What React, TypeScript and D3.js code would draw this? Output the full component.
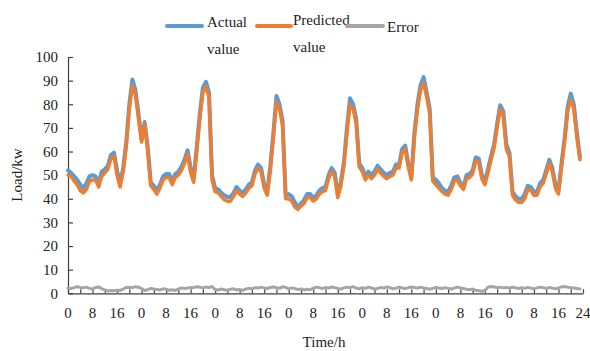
import { useEffect, useRef } from 'react';
import * as d3 from 'd3';

// hourly load over 7 days (168 points)
const actual = [
    52, 51, 49.5, 48, 46, 44.5, 46.5, 49.5, 50, 49.5, 46.5, 51.5, 52.5, 54, 58.5, 59.5, 52, 46.5, 53, 64, 80, 90.5, 86, 76,
    65, 72.5, 62, 47, 45.5, 43.5, 46, 49.5, 50.5, 50.5, 47.5, 50.5, 51.5, 53.5, 56.5, 60.5, 53, 48.8, 62, 76, 87, 89.5, 85, 50,
    44.5, 44, 42.5, 41.5, 40.8, 40.8, 42.5, 45, 43.5, 42.4, 44, 46, 47, 52, 54.5, 53, 46, 43, 54, 68, 83.5, 80, 73, 41.5,
    42, 41, 38.5, 36.5, 38, 39.5, 42, 42, 40.3, 41.5, 43.5, 44.5, 45, 50, 53, 51, 42, 47, 55.5, 70, 82.5, 80, 74, 55,
    53, 49.5, 51.5, 50, 51.5, 54, 52.5, 51, 50, 51, 51.5, 54.5, 54.5, 61, 62.5, 55, 49.3, 68, 80, 88, 91.5, 85, 78, 49,
    48, 46.5, 44.5, 43.5, 43, 45.5, 49, 49.5, 46.7, 45, 50, 50.5, 52, 57.5, 57, 50, 47.5, 52.5, 58, 63, 72, 79.6, 77, 63,
    59.5, 43, 41, 40, 40, 42, 45.5, 45, 43, 43, 46.5, 48, 52, 56.5, 53, 46, 43.7, 55, 65.7, 79, 84.5, 80, 68, 57.7,
];

const predicted = [
    50, 49.5, 47.5, 46, 43.5, 42.5, 44, 47.5, 48, 48, 45, 49.5, 51, 52.5, 57, 58, 50, 45, 51.5, 62, 78, 88, 84, 74,
    64, 71.5, 60, 45.5, 44, 42, 44.5, 48, 49, 49, 46, 49, 50, 52, 55, 59, 51, 47, 60, 74, 85, 87.5, 83, 48,
    43, 42.5, 41, 39.5, 39, 39, 41, 43.5, 42, 41, 42.5, 44.5, 45.5, 50.5, 53, 51.5, 44.5, 41.5, 52, 66, 81, 78, 71, 40,
    40, 39, 36.5, 35.5, 37, 38, 40.5, 40.5, 39, 40, 42, 43, 43.5, 48.5, 51.5, 49.5, 40.5, 45.5, 54, 68, 80, 78, 72, 53.5,
    51.5, 48, 50, 48.5, 50, 52.5, 51, 49.5, 48.5, 49.5, 50, 53, 53, 59.5, 61, 53.5, 48, 66, 78, 86, 89, 83, 76, 47.5,
    46, 44.5, 43, 42, 41.5, 44, 47.5, 48, 45.5, 44, 48.5, 49, 50.5, 56, 55.5, 48.5, 46, 51, 56.5, 61.5, 70.5, 78, 75, 61,
    58, 41.5, 39.5, 38.5, 38.5, 40, 44, 43.5, 41.5, 41.5, 45, 46.5, 50.5, 55, 51.5, 44.5, 42, 53.5, 64, 77, 82, 78, 66, 56.5,
];

const errorVals = [
    2.2, 2.0, 2.4, 2.8, 2.5, 2.3, 2.6, 2.1, 1.8, 2.5, 2.7, 2.0, 1.4, 1.0, 1.2, 1.1, 1.3, 1.2, 1.8, 2.5, 2.6, 2.4, 2.8, 2.6,
    2.0, 1.2, 1.5, 2.1, 1.8, 1.6, 1.4, 1.9, 1.7, 1.3, 1.5, 1.2, 1.8, 2.3, 2.0, 2.2, 2.5, 2.4, 2.8, 2.6, 2.3, 2.7, 2.4, 2.9,
    1.6, 1.4, 1.8, 1.5, 1.3, 1.7, 1.9, 1.4, 1.6, 1.2, 1.8, 2.1, 1.9, 2.4, 2.2, 2.6, 2.3, 2.0, 2.5, 2.7, 2.4, 2.1, 2.8, 2.5,
    1.9, 2.3, 2.0, 1.6, 1.8, 1.4, 1.7, 1.5, 2.2, 2.6, 2.4, 2.0, 2.5, 2.2, 2.7, 2.4, 2.1, 1.8, 2.3, 2.6, 2.4, 2.8, 2.2, 1.9,
    2.4, 2.1, 2.6, 2.3, 1.8, 2.0, 2.5, 2.2, 2.7, 2.4, 1.9, 2.2, 2.6, 2.3, 2.0, 2.4, 2.7, 2.5, 2.2, 2.6, 2.3, 2.0, 1.7, 2.1,
    2.5, 2.2, 2.0, 2.4, 2.1, 1.8, 2.2, 2.6, 2.3, 2.0, 1.7, 1.5, 1.8, 1.3, 1.1, 0.9, 1.2, 2.6, 2.9, 2.7, 2.4, 2.6, 2.3, 2.5,
    2.2, 2.6, 2.3, 2.0, 2.4, 2.1, 2.5, 2.2, 1.9, 2.3, 2.6, 2.4, 2.1, 2.5, 2.2, 1.9, 2.3, 2.7, 2.9, 2.6, 2.4, 2.2, 2.0, 1.8,
];

const xLabelHours = [0, 8, 16, 24, 32, 40, 48, 56, 64, 72, 80, 88, 96, 104, 112, 120, 128, 136, 144, 152, 160, 168];
const xLabels = ['0', '8', '16', '0', '8', '16', '0', '8', '16', '0', '8', '16', '0', '8', '16', '0', '8', '16', '0', '8', '16', '24'];
const yTicks = [0, 10, 20, 30, 40, 50, 60, 70, 80, 90, 100];

const BLUE = '#5B9BD5';
const ORANGE = '#ED7D31';
const GRAY = '#A5A5A5';
const FONT = '"Liberation Serif", "Times New Roman", serif';

export default function App() {
    const ref = useRef<SVGSVGElement>(null);

    useEffect(() => {
        if (!ref.current) return;
        const svg = d3.select(ref.current);
        svg.selectAll('*').remove();

        const x = d3.scaleLinear().domain([0, 168]).range([68, 583]);
        const y = d3.scaleLinear().domain([0, 100]).range([293.3, 57]);

        // Y axis
        const yAxis = svg.append('g')
            .attr('transform', 'translate(68,0)')
            .call(d3.axisLeft(y).tickValues(yTicks).tickSize(-5).tickSizeOuter(0).tickPadding(10));
        yAxis.selectAll('line, path').attr('stroke', '#404040').attr('stroke-width', 1.2);
        yAxis.selectAll('text')
            .attr('font-family', FONT).attr('font-size', 15).attr('fill', '#222');

        // X axis (ticks every 4 h)
        const xAxis = svg.append('g')
            .attr('transform', `translate(0,${y(0)})`)
            .call(d3.axisBottom(x).tickValues(d3.range(0, 169, 4)).tickSize(-4).tickSizeOuter(0).tickFormat(() => ''));
        xAxis.selectAll('line, path').attr('stroke', '#404040').attr('stroke-width', 1.2);

        svg.append('g')
            .selectAll('text')
            .data(xLabelHours)
            .enter()
            .append('text')
            .attr('x', d => x(d))
            .attr('y', 318)
            .attr('text-anchor', 'middle')
            .attr('font-family', FONT).attr('font-size', 15).attr('fill', '#222')
            .text((_, i) => xLabels[i]);

        // Axis titles
        svg.append('text')
            .attr('transform', 'translate(22,175) rotate(-90)')
            .attr('text-anchor', 'middle')
            .attr('font-family', FONT).attr('font-size', 15).attr('fill', '#222')
            .text('Load/kw');

        svg.append('text')
            .attr('x', 324).attr('y', 347)
            .attr('text-anchor', 'middle')
            .attr('font-family', FONT).attr('font-size', 15).attr('fill', '#222')
            .text('Time/h');

        // Series
        const line = d3.line<number>()
            .x((_, i) => x(i))
            .y(d => y(d));

        const series: [number[], string, number][] = [
            [errorVals, GRAY, 3],
            [actual, BLUE, 4],
            [predicted, ORANGE, 3.5],
        ];
        series.forEach(([data, color, w]) => {
            svg.append('path')
                .datum(data)
                .attr('fill', 'none')
                .attr('stroke', color)
                .attr('stroke-width', w)
                .attr('stroke-linejoin', 'round')
                .attr('stroke-linecap', 'round')
                .attr('d', line);
        });

        // Legend
        const legend = svg.append('g').attr('font-family', FONT).attr('font-size', 15).attr('fill', '#222');
        const items = [
            { color: BLUE, x1: 167, x2: 202, ly: 26, tx: 207, lines: ['Actual', 'value'], ty: [27, 54] },
            { color: ORANGE, x1: 257, x2: 291, ly: 26, tx: 293, lines: ['Predicted', 'value'], ty: [25, 52] },
            { color: GRAY, x1: 347, x2: 383, ly: 26, tx: 387, lines: ['Error'], ty: [32] },
        ];
        items.forEach(it => {
            legend.append('line')
                .attr('x1', it.x1).attr('x2', it.x2)
                .attr('y1', it.ly).attr('y2', it.ly)
                .attr('stroke', it.color).attr('stroke-width', 4)
                .attr('stroke-linecap', 'round');
            it.lines.forEach((t, i) => {
                legend.append('text').attr('x', it.tx).attr('y', it.ty[i]).text(t);
            });
        });
    }, []);

    return (
        <div style={{ position: 'absolute', left: 0, top: 0, background: '#fff' }}>
            <svg ref={ref} width={590} height={351} style={{ display: 'block' }} />
        </div>
    );
}
